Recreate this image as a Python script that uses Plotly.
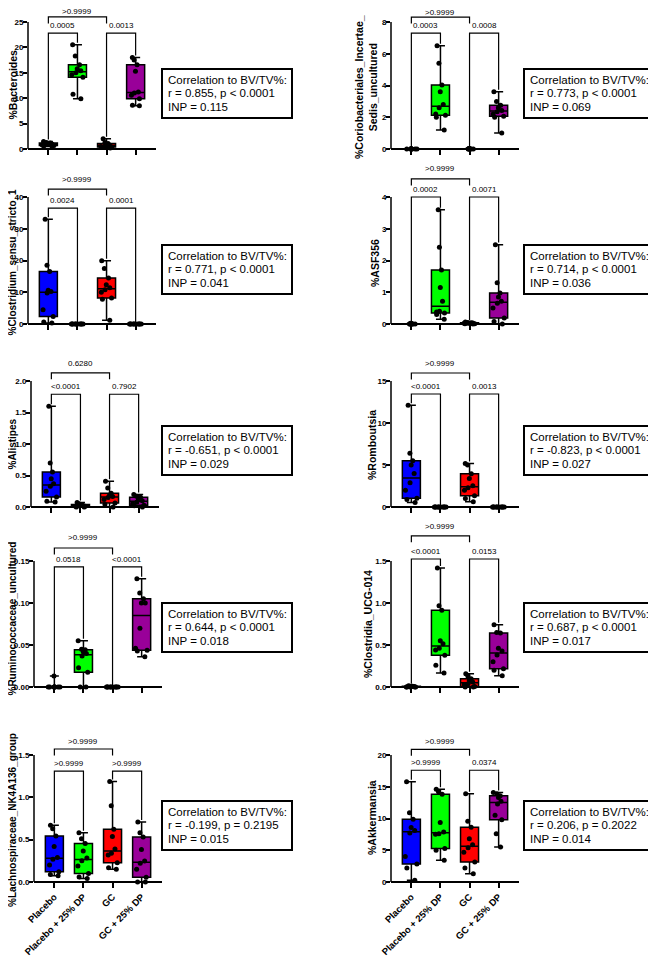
import plotly.graph_objects as go

# the page adds an 8px body margin, so the figure is drawn 8px smaller and shifted
OFF = 8
W, H = 656 - OFF, 957 - OFF

groups = ['Placebo', 'Placebo + 25% DP', 'GC', 'GC + 25% DP']
colors = ['#0000ff', '#00ff00', '#ff0000', '#990099']

# values, one list per group (Placebo, Placebo+DP, GC, GC+DP)
bacteroides = [
    [0.5, 0.6, 0.7, 0.8, 0.9, 1.0, 1.1, 1.2, 1.3, 1.5],
    [9.9, 10.8, 14.1, 14.6, 15.0, 15.4, 15.8, 16.6, 18.3, 20.5],
    [0.2, 0.3, 0.4, 0.5, 0.6, 0.8, 0.9, 1.1, 1.3, 2.0],
    [8.5, 8.6, 9.9, 10.6, 11.0, 11.2, 15.3, 16.6, 17.5, 18.0],
]
coriobacteriales = [
    [0, 0, 0, 0, 0, 0, 0, 0, 0.01, 0.02],
    [1.2, 2.0, 2.12, 2.2, 2.6, 2.8, 3.6, 4.03, 5.4, 6.5],
    [0, 0, 0, 0, 0, 0, 0.01, 0.01, 0.02, 0.03],
    [1.0, 2.0, 2.07, 2.2, 2.35, 2.43, 2.6, 2.76, 3.0, 3.6],
]
clostridium_ss1 = [
    [0.3, 0.6, 2.4, 4.5, 9.8, 10.2, 10.6, 16.5, 18.5, 33.0],
    [0, 0, 0, 0, 0, 0, 0, 0, 0, 0],
    [1.2, 7.8, 8.2, 10.0, 10.8, 11.4, 12.4, 14.5, 17.5, 19.9],
    [0, 0, 0, 0, 0, 0, 0, 0, 0, 0],
]
asf356 = [
    [0, 0, 0, 0, 0, 0, 0.005, 0.01, 0.01, 0.02],
    [0.15, 0.3, 0.35, 0.38, 0.4, 0.72, 1.15, 1.7, 2.42, 3.6],
    [0.0, 0.01, 0.01, 0.02, 0.02, 0.03, 0.03, 0.04, 0.05, 0.06],
    [0.0, 0.08, 0.19, 0.5, 0.65, 0.72, 0.85, 0.98, 1.3, 2.5],
]
alistipes = [
    [0.08, 0.09, 0.16, 0.25, 0.33, 0.37, 0.45, 0.555, 0.7, 1.6],
    [0.0, 0.0, 0.01, 0.01, 0.02, 0.02, 0.03, 0.04, 0.05, 0.07],
    [0.0, 0.04, 0.063, 0.12, 0.15, 0.166, 0.18, 0.22, 0.3, 0.41],
    [0.0, 0.02, 0.026, 0.05, 0.08, 0.1, 0.13, 0.153, 0.17, 0.2],
]
romboutsia = [
    [0.55, 0.9, 1.03, 2.0, 2.9, 4.0, 5.0, 5.5, 6.4, 12.1],
    [0, 0, 0, 0, 0, 0, 0, 0, 0, 0],
    [0.63, 1.0, 1.35, 2.0, 2.3, 2.52, 3.4, 3.96, 5.0, 5.18],
    [0, 0, 0, 0, 0, 0, 0, 0, 0, 0],
]
ruminococcaceae = [
    [0, 0, 0, 0, 0, 0, 0, 0, 0, 0.013],
    [0.0, 0.0, 0.0175, 0.023, 0.037, 0.04, 0.042, 0.0444, 0.045, 0.055],
    [0, 0, 0, 0, 0, 0, 0, 0, 0, 0],
    [0.036, 0.043, 0.0437, 0.046, 0.07, 0.1, 0.1, 0.105, 0.112, 0.129],
]
clostridia_ucg014 = [
    [0, 0, 0, 0, 0, 0.005, 0.005, 0.01, 0.01, 0.015],
    [0.167, 0.26, 0.377, 0.44, 0.46, 0.516, 0.55, 0.913, 0.968, 1.417],
    [0.0, 0.0, 0.005, 0.03, 0.04, 0.06, 0.08, 0.099, 0.13, 0.159],
    [0.135, 0.2, 0.218, 0.3, 0.38, 0.43, 0.46, 0.643, 0.65, 0.742],
]
lachnospiraceae = [
    [0.075, 0.09, 0.12, 0.2, 0.27, 0.29, 0.42, 0.544, 0.63, 0.67],
    [0.04, 0.06, 0.1, 0.19, 0.25, 0.282, 0.365, 0.456, 0.51, 0.583],
    [0.15, 0.167, 0.226, 0.32, 0.34, 0.39, 0.536, 0.623, 0.9, 1.187],
    [0.0, 0.0, 0.056, 0.15, 0.22, 0.248, 0.385, 0.532, 0.583, 0.71],
]
akkermansia = [
    [0.26, 2.2, 2.84, 4.0, 7.7, 8.1, 8.6, 9.9, 10.9, 15.8],
    [3.42, 5.0, 5.26, 7.5, 7.6, 7.88, 9.37, 13.8, 14.2, 14.6],
    [1.3, 2.2, 3.16, 4.7, 5.4, 5.86, 6.8, 8.63, 9.58, 13.9],
    [5.5, 7.6, 9.8, 10.5, 12.3, 12.7, 13.3, 13.6, 13.9, 14.1],
]

# p values: (Placebo vs Placebo+DP, GC vs GC+DP, Placebo vs GC)
p_values = [
    ['0.0005', '0.0013', '>0.9999'],
    ['0.0003', '0.0008', '>0.9999'],
    ['0.0024', '0.0001', '>0.9999'],
    ['0.0002', '0.0071', '>0.9999'],
    ['<0.0001', '0.7902', '0.6280'],
    ['<0.0001', '0.0013', '>0.9999'],
    ['0.0518', '<0.0001', '>0.9999'],
    ['<0.0001', '0.0153', '>0.9999'],
    ['>0.9999', '>0.9999', '>0.9999'],
    ['>0.9999', '0.0374', '>0.9999'],
]
correlations = [
    ['r = 0.855, p < 0.0001', 'INP = 0.115'],
    ['r = 0.773, p < 0.0001', 'INP = 0.069'],
    ['r = 0.771, p < 0.0001', 'INP = 0.041'],
    ['r = 0.714, p < 0.0001', 'INP = 0.036'],
    ['r = -0.651, p < 0.0001', 'INP = 0.029'],
    ['r = -0.823, p < 0.0001', 'INP = 0.027'],
    ['r = 0.644, p < 0.0001', 'INP = 0.018'],
    ['r = 0.687, p < 0.0001', 'INP = 0.017'],
    ['r = -0.199, p = 0.2195', 'INP = 0.015'],
    ['r = 0.206, p = 0.2022', 'INP = 0.014'],
]

titles = ['%Bacteroides', '%Coriobacteriales_Incertae_<br>Sedis_uncultured',
          '%Clostridium_sensu_stricto_1', '%ASF356', '%Alistipes', '%Romboutsia',
          '%Ruminococcaceae_uncultured', '%Clostridia_UCG-014',
          '%Lachnospiraceae_NK4A136_group', '%Akkermansia']
datasets = [bacteroides, coriobacteriales, clostridium_ss1, asf356, alistipes,
            romboutsia, ruminococcaceae, clostridia_ucg014, lachnospiraceae, akkermansia]
y_tops = [25, 8, 40, 4, 2.0, 15, 0.15, 1.5, 1.5, 20]
y_steps = [5, 2, 10, 1, 0.5, 5, 0.05, 0.5, 0.5, 5]
y_formats = ['d', 'd', 'd', 'd', '.1f', 'd', '.2f', '.1f', '.1f', 'd']

# ---- layout (page pixels) ----
AXIS_LEFT = [28, 391, 28, 391, 31, 391, 34, 391, 34, 391]
AXIS_W = 128
XR = [-0.7, 3.7]
ZERO_PX = [149, 324, 507, 687, 882]
TOP_PX = [22, 197, 381, 561, 755]
PAD = 5
BOX_LEFT = [162, 524]
BOX_TOP = [69, 245, 426, 603, 801]
TITLE_POS = [(12.5, 85), (366, 87), (11.5, 262), (375, 263), (12.5, 444), (372, 445),
             (11.5, 619), (368, 624), (12, 820), (372, 818)]
TITLE_SIZE = [10.5, 10.5, 10, 10.5, 10, 10.5, 10, 10.5, 10, 10.5]
# bracket levels in data units: (lower pair brackets, top bracket)
BRACKETS = [(22.8, 26.0), (7.3, 8.31), (36.5, 42.5), (4.0, 4.57), (1.79, 2.13),
            (13.45, 15.95), (0.143, 0.1655), (1.524, 1.80), (1.31, 1.571), (17.6, 20.9)]
TOP_LABEL_GAP = [5, 5, 10, 10, 9.5, 9.5, 10, 9, 7, 8]
LOW_LABEL_GAP = 7.5

FONT = 'Arial, "Liberation Sans", sans-serif'

fig = go.Figure()
shapes = []
annotations = []
layout = {}


def P(px, py):
    # page pixel -> paper coords
    return (px - OFF) / W, 1 - (py - OFF) / H


for i, data in enumerate(datasets):
    row, col = i // 2, i % 2
    n = i + 1
    xa = 'x' if n == 1 else f'x{n}'
    ya = 'y' if n == 1 else f'y{n}'
    left = AXIS_LEFT[i]
    zero, topp = ZERO_PX[row], TOP_PX[row]
    top = y_tops[i]
    ppu = (zero - topp) / top

    def px_x(c):
        return left + (c - XR[0]) / (XR[1] - XR[0]) * AXIS_W

    def px_y(v):
        return zero - v * ppu

    for g in range(4):
        vals = data[g]
        fig.add_trace(go.Box(
            x=[g] * len(vals), y=vals, xaxis=xa, yaxis=ya, width=0.62, whiskerwidth=0.5,
            boxpoints=False, fillcolor=colors[g], line=dict(color='black', width=1.5),
            quartilemethod='inclusive', showlegend=False, hoverinfo='skip'))
        fig.add_trace(go.Box(
            x=[g] * len(vals), y=vals, xaxis=xa, yaxis=ya, width=0.62,
            boxpoints='all', jitter=0.8, pointpos=0, fillcolor='rgba(0,0,0,0)',
            line=dict(color='rgba(0,0,0,0)', width=0),
            marker=dict(color='black', size=5), showlegend=False, hoverinfo='skip'))

    x0p = P(left, 0)[0]
    x1p = P(left + AXIS_W, 0)[0]
    layout['xaxis' if n == 1 else f'xaxis{n}'] = dict(
        domain=[x0p, x1p], range=XR, anchor='free', position=P(0, zero)[1],
        showline=True, linecolor='black', linewidth=1.5, ticks='outside', ticklen=5,
        tickwidth=1.5, tickcolor='black', tickvals=[0, 1, 2, 3], ticktext=groups,
        showticklabels=(row == 4), tickangle=-45, automargin=False,
        tickfont=dict(size=9.5, color='black', family=FONT, weight='bold'),
        showgrid=False, zeroline=False, fixedrange=True)
    nt = int(round(top / y_steps[i]))
    layout['yaxis' if n == 1 else f'yaxis{n}'] = dict(
        domain=[P(0, zero + PAD)[1], P(0, topp)[1]], range=[-PAD / ppu, top], anchor=xa,
        showline=False, ticks='outside', ticklen=4, tickwidth=1.5, tickcolor='black',
        ticklabelstandoff=-2,
        tickvals=[k * y_steps[i] for k in range(nt + 1)], tickformat=y_formats[i],
        tickfont=dict(size=8, color='black', family=FONT, weight='bold'), automargin=False,
        showgrid=False, zeroline=False, fixedrange=True)

    # y axis line from 0 to top
    ax0, ay0 = P(left, zero)
    ax1, ay1 = P(left, topp)
    shapes.append(dict(type='line', xref='paper', yref='paper', x0=ax0, y0=ay0, x1=ax1, y1=ay1,
                       line=dict(color='black', width=1.5)))

    # significance brackets
    low, high = BRACKETS[i]
    for a, b, lab in [(0, 1, p_values[i][0]), (2, 3, p_values[i][1])]:
        yl = px_y(low)
        ya_b = px_y(max(data[a])) - 2
        yb_b = px_y(max(data[b])) - 2
        pts = [P(px_x(a), ya_b), P(px_x(a), yl), P(px_x(b), yl), P(px_x(b), yb_b)]
        path = 'M ' + ' L '.join(f'{x:.5f},{y:.5f}' for x, y in pts)
        shapes.append(dict(type='path', xref='paper', yref='paper', path=path,
                           line=dict(color='black', width=1.2)))
        tx, ty = P((px_x(a) + px_x(b)) / 2, yl - LOW_LABEL_GAP)
        annotations.append(dict(x=tx, y=ty, xref='paper', yref='paper', text=lab, showarrow=False,
                                xanchor='center', yanchor='middle',
                                font=dict(size=8, color='black', family=FONT)))
    yt = px_y(high)
    pts = [P(px_x(0), yt + 6.5), P(px_x(0), yt), P(px_x(2), yt), P(px_x(2), yt + 6.5)]
    path = 'M ' + ' L '.join(f'{x:.5f},{y:.5f}' for x, y in pts)
    shapes.append(dict(type='path', xref='paper', yref='paper', path=path,
                       line=dict(color='black', width=1.2)))
    tx, ty = P(px_x(1), yt - TOP_LABEL_GAP[i])
    annotations.append(dict(x=tx, y=ty, xref='paper', yref='paper', text=p_values[i][2],
                            showarrow=False, xanchor='center', yanchor='middle',
                            font=dict(size=8, color='black', family=FONT)))

    # y title
    tx, ty = P(*TITLE_POS[i])
    annotations.append(dict(x=tx, y=ty, xref='paper', yref='paper', text=titles[i],
                            showarrow=False, textangle=-90, xanchor='center', yanchor='middle',
                            font=dict(size=TITLE_SIZE[i], color='black', family=FONT,
                                      weight='bold')))

    # correlation box
    bl, bt = BOX_LEFT[col], BOX_TOP[row]
    rx0, ry0 = P(bl, bt)
    rx1, ry1 = P(bl + 130, bt + 49)
    shapes.append(dict(type='rect', xref='paper', yref='paper', x0=rx0, y0=ry1, x1=rx1, y1=ry0,
                       line=dict(color='black', width=2), fillcolor='white'))
    lines = ['Correlation to BV/TV%:'] + correlations[i]
    for k, txt in enumerate(lines):
        tx, ty = P(bl + 4, bt + 11 + k * 13.4)
        annotations.append(dict(x=tx, y=ty, xref='paper', yref='paper', text=txt,
                                showarrow=False, xanchor='left', yanchor='middle',
                                font=dict(size=11.5, color='black', family=FONT)))

fig.update_layout(
    width=W, height=H, autosize=False,
    margin=dict(l=0, r=0, t=0, b=0, pad=0, autoexpand=False),
    paper_bgcolor='white', plot_bgcolor='white',
    boxmode='overlay', showlegend=False,
    font=dict(family=FONT, color='black'),
    shapes=shapes, annotations=annotations,
    **layout,
)

fig.write_html("out.html")
